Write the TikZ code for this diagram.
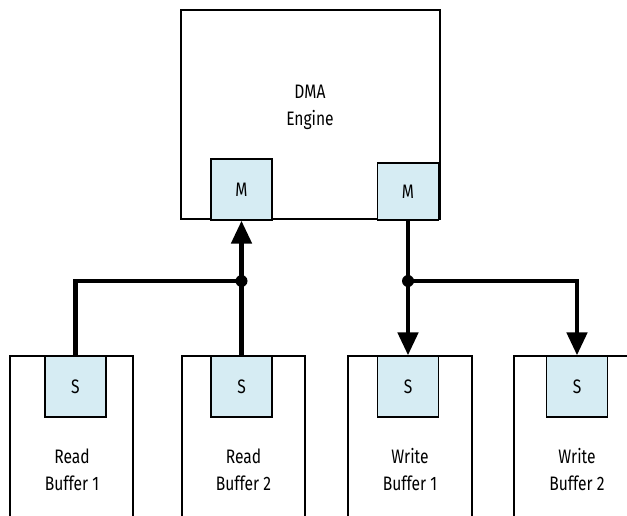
\documentclass[tikz,border=0pt]{standalone}
\usepackage{fontspec}
\setmainfont[FakeStretch=0.8]{Fira Sans}
\usetikzlibrary{arrows.meta}
\definecolor{portblue}{RGB}{214,236,243}

\begin{document}
\begin{tikzpicture}[x=1pt,y=-1pt,
  box/.style={draw,line width=1.3pt,inner sep=0pt},
  port/.style={draw,fill=portblue,line width=1.3pt,minimum width=61pt,minimum height=61pt,inner sep=0pt,font=\fontsize{19.5}{19.5}\selectfont},
  lbl/.style={align=center,font=\fontsize{19.5}{27}\selectfont},
  bus/.style={line width=4.8pt},
  busarrow/.style={bus,-{Triangle[width=20pt,length=23pt]}}]
\clip (0,0) rectangle (627,516);
% engine
\node[box,minimum width=259pt,minimum height=209pt] (dma) at (310.5,114.5) {};
\node[lbl] (dmatxt) at (310,107) {DMA\\Engine};
\node[port] (mr) at (241.5,189.5) {M};
\node[port,minimum height=57pt] (mw) at (408,191.5) {M};
% buffers
\node[box,minimum width=123pt,minimum height=190pt] (rb1) at (71.5,451) {};
\node[box,minimum width=123pt,minimum height=190pt] (rb2) at (243.5,451) {};
\node[box,minimum width=124pt,minimum height=190pt] (wb1) at (410,451) {};
\node[box,minimum width=124pt,minimum height=190pt] (wb2) at (576,451) {};
\node[port] (s1) at (75.5,386.5) {S};
\node[port] (s2) at (241.5,386.5) {S};
\node[port] (s3) at (408,386.5) {S};
\node[port] (s4) at (577,386.5) {S};
\node[lbl] (rb1txt) at (72,470) {Read\\Buffer 1};
\node[lbl] (rb2txt) at (243.5,470) {Read\\Buffer 2};
\node[lbl] (wb1txt) at (410,470) {Write\\Buffer 1};
\node[lbl] (wb2txt) at (577,470) {Write\\Buffer 2};
% read side
\coordinate (jr) at (241.5,281);
\draw[bus] (s1.north) |- (jr);
\draw[busarrow] (s2.north) -- (mr.south);
\fill (jr) circle (6pt);
% write side
\coordinate (jw) at (408,281);
\draw[busarrow] (mw.south) -- (s3.north);
\draw[busarrow] (jw) -| (s4.north);
\fill (jw) circle (6pt);
\end{tikzpicture}
\end{document}
